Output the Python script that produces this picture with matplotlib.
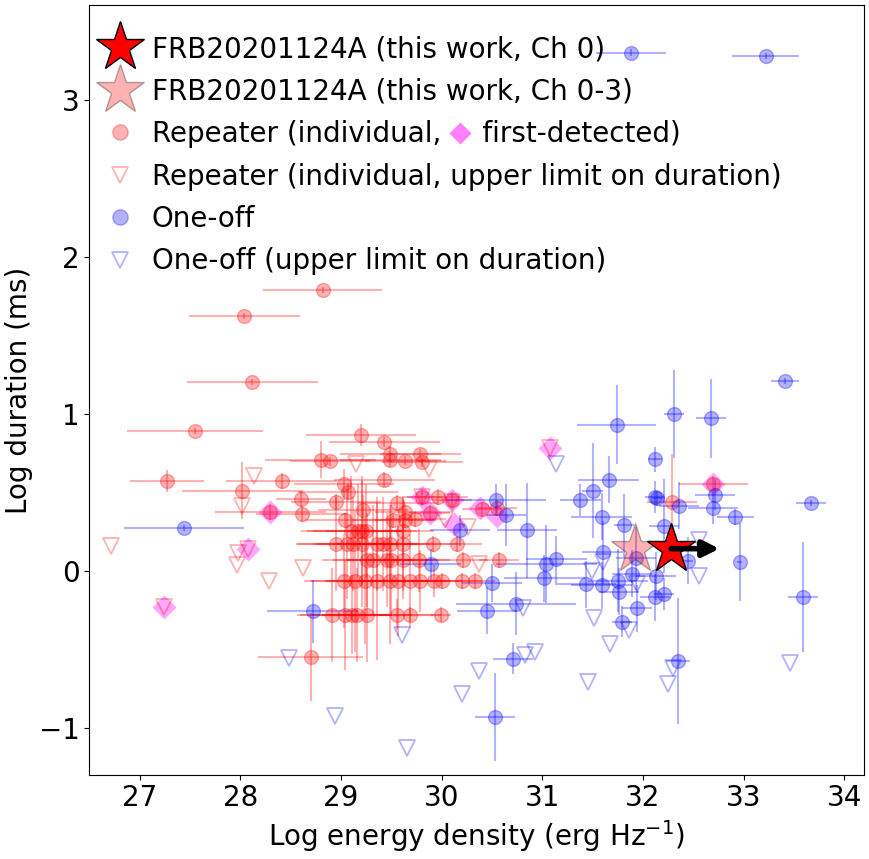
import numpy as np
import matplotlib
matplotlib.use("Agg")
import matplotlib.pyplot as plt

# repeater bursts (individual) with errors
rep_x = [28.82, 28.04, 28.12, 27.55, 27.27, 28.02, 28.41, 28.30, 28.60, 28.61,
         29.20, 29.43, 28.80, 28.89, 29.49, 29.49, 29.64, 29.79, 29.81, 29.43,
         29.03, 29.07, 28.95, 29.04, 29.22, 29.56, 29.52, 29.64, 29.64, 29.74,
         29.96, 29.88, 29.81, 30.10, 30.40, 30.55, 29.62,
         29.10, 29.17, 29.21, 29.25,
         28.95, 29.06, 29.12, 29.21, 29.36, 29.42, 29.49, 29.62, 29.91, 30.15,
         29.26, 29.32, 29.46, 29.50, 29.62, 29.78, 30.21, 30.57,
         29.03, 29.14, 29.24, 29.36, 29.49, 29.57, 29.69, 29.79, 29.92, 30.00, 30.20, 30.33,
         28.91, 29.04, 29.11, 29.16, 29.26, 29.56, 29.69, 29.99,
         28.70, 32.29, 32.70]
rep_y = [1.79, 1.62, 1.20, 0.89, 0.57, 0.51, 0.57, 0.375, 0.455, 0.36,
         0.863, 0.82, 0.708, 0.697, 0.746, 0.708, 0.70, 0.746, 0.69, 0.58,
         0.55, 0.50, 0.44, 0.32, 0.385, 0.43, 0.32, 0.375, 0.32, 0.33,
         0.47, 0.37, 0.47, 0.45, 0.39, 0.40, 0.25,
         0.252, 0.252, 0.252, 0.252,
         0.169, 0.169, 0.169, 0.169, 0.169, 0.169, 0.169, 0.169, 0.169, 0.169,
         0.067, 0.067, 0.067, 0.067, 0.067, 0.067, 0.067, 0.067,
         -0.066, -0.066, -0.066, -0.066, -0.066, -0.066, -0.066, -0.066, -0.066, -0.066, -0.066, -0.066,
         -0.28, -0.28, -0.28, -0.28, -0.28, -0.28, -0.28, -0.28,
         -0.55, 0.44, 0.555]
rep_xerr = [0.59, 0.55, 0.65, 0.68, 0.37, 0.60, 0.55, 0.55, 0.25, 0.45,
            0.55, 0.55, 0.55, 0.40, 0.50, 0.50, 0.40, 0.40, 0.40, 0.50,
            0.50, 0.50, 0.45, 0.40, 0.45, 0.40, 0.40, 0.30, 0.30, 0.30,
            0.30, 0.20, 0.20, 0.20, 0.20, 0.20, 0.30,
            0.50, 0.45, 0.55, 0.40,
            0.40, 0.50, 0.40, 0.45, 0.40, 0.35, 0.40, 0.30, 0.25, 0.25,
            0.45, 0.40, 0.40, 0.45, 0.35, 0.30, 0.25, 0.20,
            0.40, 0.45, 0.40, 0.50, 0.45, 0.40, 0.35, 0.30, 0.25, 0.20, 0.20, 0.20,
            0.35, 0.45, 0.40, 0.35, 0.45, 0.35, 0.30, 0.10,
            0.52, 0.25, 0.34]
rep_yerr = [0.02, 0.02, 0.02, 0.02, 0.07, 0.18, 0.05, 0.05, 0.05, 0.05,
            0.07, 0.03, 0.12, 0.03, 0.05, 0.05, 0.03, 0.03, 0.03, 0.05,
            0.10, 0.05, 0.05, 0.05, 0.10, 0.05, 0.05, 0.05, 0.05, 0.05,
            0.05, 0.05, 0.05, 0.05, 0.05, 0.05, 0.20,
            0.35, 0.30, 0.35, 0.30,
            0.30, 0.35, 0.30, 0.40, 0.30, 0.30, 0.25, 0.30, 0.05, 0.05,
            0.30, 0.35, 0.30, 0.35, 0.25, 0.20, 0.05, 0.05,
            0.30, 0.45, 0.40, 0.50, 0.40, 0.35, 0.30, 0.20, 0.10, 0.05, 0.05, 0.05,
            0.30, 0.35, 0.25, 0.30, 0.30, 0.10, 0.05, 0.05,
            0.28, 0.30, 0.05]

# first-detected bursts of repeaters
first_x = [27.24, 28.08, 28.30, 29.81, 29.88, 30.10, 30.12, 30.38, 30.55, 31.08, 32.70]
first_y = [-0.23, 0.135, 0.375, 0.47, 0.37, 0.45, 0.30, 0.40, 0.35, 0.78, 0.555]

# repeater upper limits on duration
rep_ul_x = [26.72, 27.24, 28.08, 27.98, 27.97, 28.02, 28.14, 28.62, 28.29,
            29.15, 29.87, 29.81, 30.10, 30.03, 30.26, 30.37, 31.08]
rep_ul_y = [0.157, -0.23, 0.135, 0.11, 0.036, 0.41, 0.60, 0.02, -0.066,
            0.68, 0.65, 0.47, 0.44, 0.32, 0.28, 0.04, 0.78]

# one-off bursts with errors
one_x = [31.88, 33.22, 33.41, 32.31, 32.68, 31.74, 32.12, 31.66, 31.50, 31.38,
         33.67, 32.92, 32.96, 33.59, 32.35, 30.53, 30.71, 30.45, 30.74, 30.50,
         31.02, 31.04, 31.14, 30.85, 30.18, 30.54, 30.64, 31.59, 31.81, 32.21,
         32.36, 32.70, 32.72, 32.12, 32.14, 31.60, 31.93, 32.13, 32.45, 31.89,
         31.43, 31.59, 31.75, 31.76, 32.12, 32.21, 31.94, 31.79, 29.89, 27.44,
         28.72]
one_y = [3.30, 3.28, 1.21, 1.00, 0.97, 0.93, 0.71, 0.58, 0.51, 0.45,
         0.43, 0.34, 0.055, -0.17, -0.575, -0.93, -0.56, -0.255, -0.21, -0.08,
         -0.05, 0.042, 0.072, 0.256, 0.256, 0.45, 0.354, 0.343, 0.29, 0.284,
         0.415, 0.40, 0.485, 0.47, 0.46, 0.118, 0.078, -0.034, 0.063, -0.02,
         -0.087, -0.094, -0.064, -0.134, -0.17, -0.15, -0.24, -0.325, 0.04, 0.27,
         -0.26]
one_xerr = [0.35, 0.33, 0.14, 0.10, 0.15, 0.39, 0.07, 0.30, 0.10, 0.20,
            0.15, 0.18, 0.02, 0.15, 0.12, 0.20, 0.20, 0.30, 0.60, 0.30,
            0.40, 0.50, 0.30, 0.30, 0.30, 0.50, 0.20, 0.30, 0.10, 0.15,
            0.20, 0.25, 0.20, 0.10, 0.05, 0.20, 0.20, 0.20, 0.05, 0.20,
            0.30, 0.30, 0.30, 0.20, 0.15, 0.10, 0.15, 0.10, 0.30, 0.60,
            0.45]
one_yerr = [0.02, 0.02, 0.02, 0.28, 0.25, 0.25, 0.08, 0.15, 0.30, 0.10,
            0.02, 0.05, 0.25, 0.35, 0.40, 0.28, 0.10, 0.15, 0.20, 0.12,
            0.15, 0.25, 0.15, 0.30, 0.10, 0.10, 0.20, 0.15, 0.20, 0.30,
            0.15, 0.10, 0.10, 0.10, 0.05, 0.20, 0.20, 0.15, 0.15, 0.15,
            0.15, 0.15, 0.20, 0.15, 0.15, 0.10, 0.15, 0.10, 0.10, 0.02,
            0.20]

# one-off upper limits on duration
one_ul_x = [31.14, 31.49, 31.94, 32.56, 32.56, 31.51, 31.86, 31.67, 30.81, 30.93,
            30.83, 30.37, 30.20, 31.45, 32.25, 32.30, 33.46, 29.61, 28.48, 28.94,
            29.66, 31.60]
one_ul_y = [0.68, 0.0, -0.085, 0.195, -0.034, -0.30, -0.38, -0.47, -0.24, -0.52,
            -0.54, -0.64, -0.785, -0.71, -0.72, -0.62, -0.59, -0.41, -0.555, -0.925,
            -1.13, 0.057]

# FRB20201124A (this work)
ch0_x, ch0_y = 32.28, 0.14
ch03_x, ch03_y = 31.92, 0.14
arrow_len = 0.48

plt.rcParams['font.size'] = 20
fig = plt.figure(figsize=(8.69, 8.59), dpi=100)
ax = fig.add_axes([0.1028, 0.0981, 0.8918, 0.8955])

ax.errorbar(rep_x, rep_y, xerr=rep_xerr, yerr=rep_yerr, fmt='o', color='red',
            alpha=0.3, ms=10, zorder=2)
ax.plot(first_x, first_y, 'D', color='magenta', alpha=0.35, ms=12, mec='none', zorder=2)
ax.plot(rep_ul_x, rep_ul_y, 'v', mfc='none', mec='red', alpha=0.3, ms=11, mew=1.3, zorder=2)
ax.errorbar(one_x, one_y, xerr=one_xerr, yerr=one_yerr, fmt='o', color='blue',
            alpha=0.3, ms=10, zorder=2)
ax.plot(one_ul_x, one_ul_y, 'v', mfc='none', mec='blue', alpha=0.3, ms=11, mew=1.3, zorder=2)

ax.plot(ch03_x, ch03_y, '*', mfc='red', mec='black', alpha=0.3, ms=37, zorder=3)
ax.plot(ch0_x, ch0_y, '*', mfc='red', mec='black', ms=37, zorder=4)
ax.annotate('', xy=(ch0_x + arrow_len, ch0_y), xytext=(ch0_x, ch0_y),
            arrowprops=dict(arrowstyle='-|>', lw=4, color='black', mutation_scale=24,
                            shrinkA=0, shrinkB=0),
            zorder=5)

# legend proxies
h1, = ax.plot([], [], '*', mfc='red', mec='black', ms=37)
h2, = ax.plot([], [], '*', mfc='red', mec='black', alpha=0.3, ms=37)
h3, = ax.plot([], [], 'o', color='red', alpha=0.3, ms=11)
h4, = ax.plot([], [], 'v', mfc='none', mec='red', alpha=0.3, ms=11, mew=1.3)
h5, = ax.plot([], [], 'o', color='blue', alpha=0.3, ms=11)
h6, = ax.plot([], [], 'v', mfc='none', mec='blue', alpha=0.3, ms=11, mew=1.3)
prefix = 'Repeater (individual, '
labels = ['FRB20201124A (this work, Ch 0)', 'FRB20201124A (this work, Ch 0-3)',
          prefix + '   \u2009first-detected)',
          'Repeater (individual, upper limit on duration)', 'One-off',
          'One-off (upper limit on duration)']
leg = ax.legend([h1, h2, h3, h4, h5, h6], labels, loc='upper left',
                bbox_to_anchor=(0, 0.965), frameon=False, fontsize=20,
                borderaxespad=0, borderpad=0.1, handlelength=2.0,
                handletextpad=0.15, labelspacing=0.52)

ax.set_xlim(26.5, 34.2)
ax.set_ylim(-1.3, 3.6)
ax.set_xticks([27, 28, 29, 30, 31, 32, 33, 34])
ax.set_yticks([-1, 0, 1, 2, 3])
ax.tick_params(labelsize=20)
ax.set_xlabel('Log energy density (erg Hz$^{-1}$)', fontsize=20)
ax.set_ylabel('Log duration (ms)', fontsize=20)

# magenta diamond inside the third legend label
fig.canvas.draw()
r = fig.canvas.get_renderer()
t3 = leg.get_texts()[2]
bb = t3.get_window_extent(r)
tmp = fig.text(0, 0, prefix, fontsize=20)
pw = tmp.get_window_extent(r).width
tmp.remove()
xd, yd = fig.transFigure.inverted().transform((bb.x0 + pw + 10, (bb.y0 + bb.y1) / 2 + 1))
fig.add_artist(plt.Line2D([xd], [yd], marker='D', color='magenta', alpha=0.5, ms=11.5,
                          mec='none', transform=fig.transFigure))

fig.savefig('out.png', dpi=100)
